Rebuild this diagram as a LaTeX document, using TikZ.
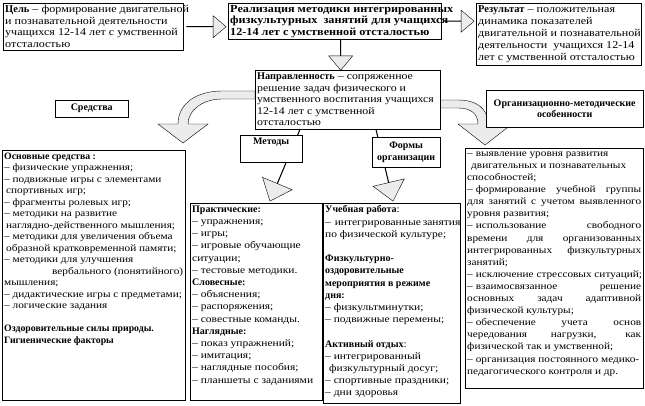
\documentclass[tikz,border=0pt]{standalone}
\usepackage{fontspec}
\setmainfont{Liberation Serif}[UprightFeatures={FakeStretch=1.15}]
\newfontfamily\widefont{Liberation Serif}[FakeStretch=1.13]
\usetikzlibrary{calc,shapes.arrows,backgrounds}

\newcommand{\jline}[2]{\makebox[#1][s]{#2}}
\newcommand{\dsh}{–\hspace{3pt}}
\newcommand{\fatarrow}[3][]{%
  \path let \p1=($(#3)-(#2)$), \n1={atan2(\y1,\x1)}, \n2={veclen(\x1,\y1)}
    in node[fat arrow, #1, minimum height=\n2, rotate=\n1] at ($(#2)!.5!(#3)$) {};}

\tikzset{
  frame/.style={draw, fill=white, anchor=north west, inner sep=0pt},
  txt/.style={anchor=north west, inner xsep=2pt, inner ysep=2.5pt, align=left, font=\fontsize{10}{11.5}\selectfont},
  labelbox/.style={frame, align=center, font=\fontsize{10}{11.5}\selectfont\bfseries},
  fat arrow/.style={draw, fill=gray!15, single arrow, inner sep=0pt, minimum width=22pt,
    single arrow head extend=7pt, single arrow tip angle=80},
  fat curve/.style={draw, fill=gray!15},
}

\begin{document}
\begin{tikzpicture}[x=1pt,y=-1pt]
\useasboundingbox (0,0) rectangle (645,406);

% frames
\node[frame, minimum width=180pt, minimum height=47pt] (goal) at (3,3) {};
\node[frame, minimum width=213pt, minimum height=36pt] (real) at (228,3) {};
\node[frame, minimum width=165pt, minimum height=62pt] (result) at (476,3) {};
\node[frame, minimum width=185pt, minimum height=59pt] (aim) at (255,70) {};
\node[frame, minimum width=62pt, minimum height=27pt] (methl) at (240,135) {};
\node[frame, minimum width=183pt, minimum height=250pt] (means) at (2,150) {};
\node[frame, minimum width=132pt, minimum height=197pt] (pract) at (190,203) {};
\node[frame, minimum width=137pt, minimum height=200pt] (forms) at (323,203) {};
\node[frame, minimum width=178pt, minimum height=240pt] (orgt) at (465,148) {};

% labels
\node[labelbox, minimum width=73pt, minimum height=17pt] (meansl) at (55,100) {Средства};
\node[labelbox, minimum width=157pt, minimum height=37pt] (orgl) at (486,90) {Организационно-методические\\ особенности};
\node[labelbox, minimum width=68pt, minimum height=30pt] (forml) at (372,137) {Формы\\ организации};
\node[anchor=north, inner sep=2.5pt, font=\fontsize{10}{11.5}\selectfont\bfseries] (methtxt) at (methl.north) {Методы};

% texts
\node[txt, font=\fontsize{10.5}{11.5}\selectfont] (goaltxt) at (goal.north west) {\textbf{Цель} – формирование двигательной\\ и познавательной деятельности\\ учащихся 12-14 лет с умственной\\ отсталостью};
\node[txt, inner ysep=2pt, font=\fontsize{10.8}{11.6}\selectfont\widefont\bfseries] (realtxt) at (real.north west) {Реализация методики интегрированных\\ физкультурных\ \ занятий для учащихся\\ 12-14 лет с умственной отсталостью};
\node[txt, inner ysep=2pt, font=\fontsize{10.5}{12}\selectfont] (resulttxt) at (result.north west) {\textbf{Результат} – положительная\\ динамика показателей\\ двигательной и познавательной\\ деятельности\ \ учащихся 12-14\\ лет с умственной отсталостью};
\node[txt, font=\fontsize{10.3}{11.6}\selectfont] (aimtxt) at (aim.north west) {\textbf{Направленность} – сопряженное\\ решение задач физического и\\ умственного воспитания учащихся\\ 12-14 лет с умственной\\ отсталостью};

\node[txt, font=\fontsize{9.8}{11.5}\selectfont] (meanstxt) at (means.north west) {\textbf{Основные средства :}\\
– физические упражнения;\\
– подвижные игры с элементами\\
\hspace*{2pt}спортивных игр;\\
– фрагменты ролевых игр;\\
– методики на развитие\\
\hspace*{2pt}наглядно-действенного мышления;\\
– методики для увеличения объема\\
\hspace*{2pt}образной кратковременной памяти;\\
– методики для улучшения\\
\makebox[179pt][r]{вербального (понятийного)}\\
мышления;\\
– дидактические игры с предметами;\\
– логические задания\\[11.5pt]
\textbf{Оздоровительные силы природы.}\\
\textbf{Гигиенические факторы}};

\node[txt, font=\fontsize{10}{12.2}\selectfont] (practtxt) at (pract.north west) {\textbf{Практические:}\\
– упражнения;\\
– игры;\\
– игровые обучающие\\
ситуации;\\
– тестовые методики.\\
\textbf{Словесные:}\\
– объяснения;\\
– распоряжения;\\
– совестные команды.\\
\textbf{Наглядные:}\\
– показ упражнений;\\
– имитация;\\
– наглядные пособия;\\
– планшеты с заданиями};

\node[txt, font=\fontsize{10}{12.2}\selectfont] (formstxt) at (forms.north west) {\textbf{Учебная работа}:\\
\jline{133pt}{– \ интегрированные занятия}\\
по физической культуре;\\[12.2pt]
\textbf{Физкультурно-}\\
\textbf{оздоровительные}\\
\textbf{мероприятия в режиме}\\
\textbf{дня:}\\
– физкультминутки;\\
– подвижные перемены;\\[12.2pt]
\textbf{Активный отдых}:\\
– интегрированный\\
\hspace*{4pt}физкультурный досуг;\\
– спортивные праздники;\\
– дни здоровья};

\node[txt, inner ysep=3.5pt, font=\fontsize{9.8}{12.1}\selectfont] (orgttxt) at (orgt.north west) {\dsh выявление уровня развития\\
\hspace*{4pt}двигательных и познавательных\\
способностей;\\
\jline{174pt}{\dsh формирование учебной группы}\\
\jline{174pt}{для занятий с учетом выявленного}\\
уровня развития;\\
\jline{174pt}{\dsh использование свободного}\\
\jline{174pt}{времени для организованных}\\
\jline{174pt}{интегрированных физкультурных}\\
занятий;\\
\dsh исключение стрессовых ситуаций;\\
\jline{174pt}{\dsh взаимосвязанное решение}\\
\jline{174pt}{основных задач адаптивной}\\
физической культуры;\\
\jline{174pt}{\dsh обеспечение учета основ}\\
\jline{174pt}{чередования нагрузки, как}\\
физической так и умственной;\\
\dsh организация постоянного медико-\\
педагогического контроля и др.};

% arrow ends
\coordinate (g1) at ($(goal.east)+(3,0)$);
\coordinate (g2) at ($(goal.east -| real.west)+(-2,0)$);
\coordinate (r1) at ($(real.east)+(3,0)$);
\coordinate (r2) at ($(real.east -| result.west)+(-2,0)$);
\coordinate (d1) at ($(real.south)+(6,0)$);
\coordinate (d2) at ($(real.south |- aim.north)+(6,0)$);
\coordinate (m1) at ($(aim.south west)+(45,0)$);
\coordinate (m2) at ($(pract.north west)+(80,-2)$);
\coordinate (f1) at ($(aim.south west)+(121,0)$);
\coordinate (f2) at ($(forms.north west)+(70,-2)$);

\begin{scope}[on background layer]
\fatarrow{g1}{g2}
\fatarrow{r1}{r2}
\fatarrow[minimum width=24pt]{d1}{d2}
\fatarrow[minimum width=32pt, single arrow head extend=10pt]{m1}{m2}
\fatarrow[minimum width=32pt, single arrow head extend=10pt]{f1}{f2}

% curved arrows
\draw[fat curve] (255,91) -- (222,91) .. controls (196,91) and (178,104) .. (178,124)
  -- (158,124) -- (183,143) -- (208,124) -- (188,124)
  .. controls (188,110) and (203,99) .. (222,99) -- (255,99) -- cycle;
\draw[fat curve] (440,100) -- (458,100) .. controls (477,100) and (488,109) .. (488,124)
  -- (512,124) -- (485,145) -- (458,124) -- (478,124)
  .. controls (478,114) and (471,108) .. (458,108) -- (440,108) -- cycle;
\end{scope}

\end{tikzpicture}
\end{document}
